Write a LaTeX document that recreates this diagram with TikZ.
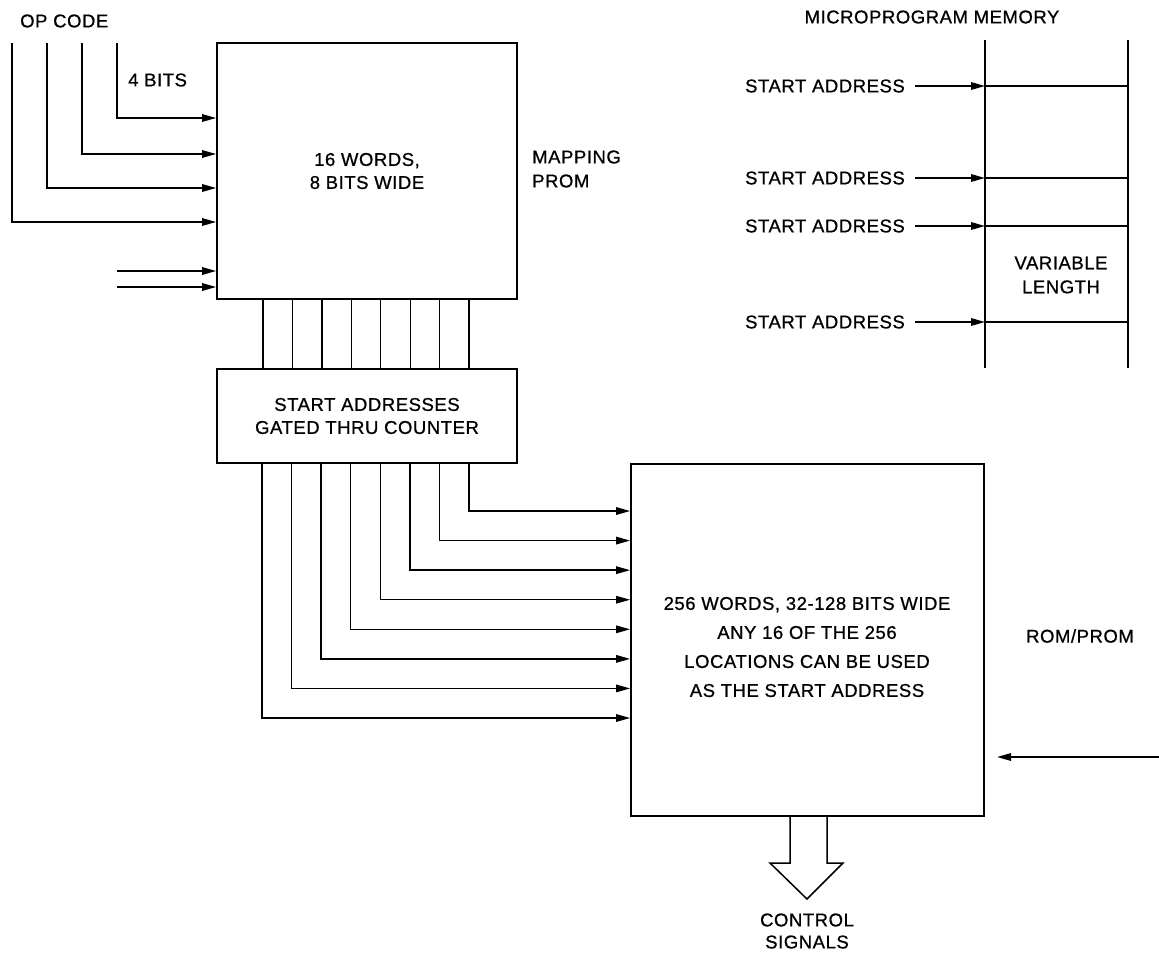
\documentclass[tikz,border=0pt]{standalone}
\usepackage{fontspec}
\setmainfont{Liberation Sans}[LetterSpace=3,FakeBold=0.8]
\usetikzlibrary{arrows.meta}
\begin{document}
\begin{tikzpicture}[x=1pt,y=-1pt,
  font=\fontsize{18.5}{23}\selectfont,
  box/.style={draw, line width=1.8pt, inner sep=0pt, align=center},
  wire/.style={line width=1.7pt},
  thin/.style={line width=1.3pt},
  arr/.style={line width=1.6pt, -{Triangle[length=14pt,width=7.5pt]}},
  lbl/.style={inner sep=0pt, align=center}]
\useasboundingbox (0,0) rectangle (1159,954);

% boxes
\node[box, minimum width=300pt, minimum height=256pt] (prom) at (367,171) {16 WORDS,\\8 BITS WIDE};
\node[box, minimum width=300pt, minimum height=94pt] (ctr) at (367,416) {START ADDRESSES\\GATED THRU COUNTER};
\node[box, minimum width=353pt, minimum height=352pt] (rom) at (807.5,640) {};
\node[lbl, font=\fontsize{18.5}{29}\selectfont] (romtxt) at (807,647) {256 WORDS, 32-128 BITS WIDE\\ANY 16 OF THE 256\\LOCATIONS CAN BE USED\\AS THE START ADDRESS};

% labels
\node[lbl, anchor=west] (opcode) at (20,21) {OP CODE};
\node[lbl, anchor=west] (fourbits) at (128,80) {4 BITS};
\node[lbl, anchor=west, align=left, font=\fontsize{18.5}{24}\selectfont] (mapping) at (532,169) {MAPPING\\PROM};
\node[lbl] (rompromlbl) at (1080,636) {ROM/PROM};
\node[lbl, font=\fontsize{18.5}{22}\selectfont] (ctrl) at (807,931) {CONTROL\\SIGNALS};
\node[lbl] (mptitle) at (932,17) {MICROPROGRAM MEMORY};

% op code inputs
\coordinate (op1) at (117,43);
\coordinate (op2) at (82,43);
\coordinate (op3) at (47,43);
\coordinate (op4) at (12,43);
\draw[arr] (op1) |- (prom.west |- 0,118);
\draw[arr] (op2) |- (prom.west |- 0,154);
\draw[arr] (op3) |- (prom.west |- 0,188);
\draw[arr] (op4) |- (prom.west |- 0,222);
\coordinate (ex1) at (117,271);
\coordinate (ex2) at (117,287);
\draw[arr] (ex1) -- (prom.west |- ex1);
\draw[arr] (ex2) -- (prom.west |- ex2);

% bus prom -> counter
\foreach \i in {0,...,7}{
  \pgfmathsetmacro\bx{263+29.43*\i}
  \draw[thin] (prom.south -| \bx,0) -- (ctr.north -| \bx,0);
}
% counter -> rom
\foreach \i in {0,...,7}{
  \pgfmathsetmacro\bx{262+29.57*\i}
  \pgfmathsetmacro\by{718-29.57*\i}
  \draw[arr, line width=1.5pt] (ctr.south -| \bx,0) |- (rom.west |- 0,\by);
}

% input on right
\coordinate (rin) at (1159,757);
\coordinate (rtip) at (997,757);
\draw[arr] (rin) -- (rtip);

% output arrow
\draw[line width=1.5pt, line join=miter] (rom.south -| 790,0) -- (790,863) -- (770,863) -- (807,899) -- (843,863) -- (827,863) -- (rom.south -| 827,0);

% microprogram memory
\coordinate (mtl) at (985,40);
\coordinate (mbl) at (985,368);
\coordinate (mtr) at (1128,40);
\coordinate (mbr) at (1128,368);
\draw[wire] (mtl) -- (mbl);
\draw[wire] (mtr) -- (mbr);
\foreach \y/\n in {86/a,178/b,226/c,322/d}{
  \node[lbl, anchor=east] (sa\n) at (905,\y) {START ADDRESS};
  \coordinate (ml\n) at (985,\y);
  \coordinate (mr\n) at (1128,\y);
  \draw[arr] ([xshift=10pt]sa\n.east) -- (ml\n);
  \draw[wire] (ml\n) -- (mr\n);
}
\node[lbl, font=\fontsize{18.5}{24}\selectfont] (varlen) at (1061,275) {VARIABLE\\LENGTH};
\end{tikzpicture}
\end{document}
